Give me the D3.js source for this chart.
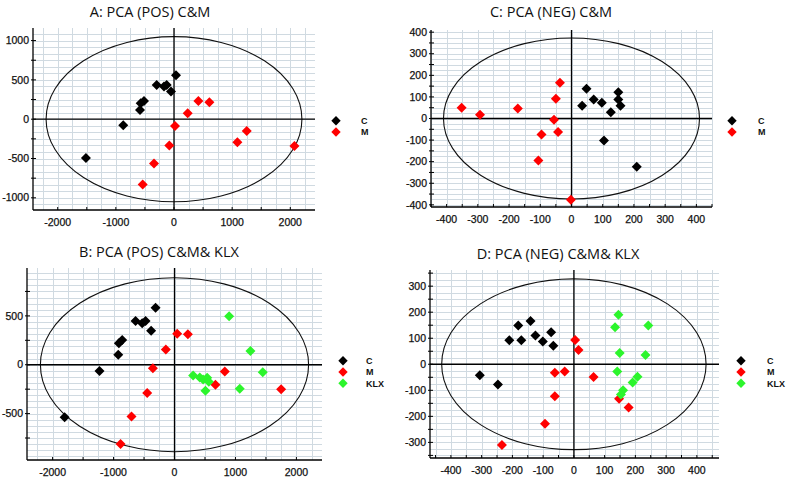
<!DOCTYPE html>
<html><head><meta charset="utf-8">
<script src="https://cdn.jsdelivr.net/npm/d3@7/dist/d3.min.js"></script>
<style>body{margin:0;background:#fff}svg{display:block}</style>
</head><body>
<svg id="chart" width="787" height="478"></svg>
<script>
// ---------- DATA ----------
// A: PCA (POS) C&M
const posCM_C = [[34,560],[-298,436],[-172,415],[-126,436],[-52,351],[-516,233],[-573,203],[-585,118],[-873,-76],[-1515,-492]];
const posCM_M = [[419,233],[608,216],[235,76],[17,-85],[-81,-336],[-344,-565],[-539,-832],[1090,-293],[1251,-149],[2071,-340]];
// C: PCA (NEG) C&M
const negCM_C = [[48,138],[71,88],[97,73],[34,59],[126,29],[150,122],[150,88],[157,59],[104,-102],[209,-223]];
const negCM_M = [[-37,166],[-50,91],[-352,50],[-293,17],[-172,46],[-56,-6],[-96,-74],[-43,-63],[-106,-195],[-2,-376]];
// B: PCA (POS) C&M& KLX
const posCMK_C = [[-311,583],[-639,447],[-475,447],[-530,424],[-383,348],[-858,253],[-913,219],[-923,102],[-1230,-64],[-1803,-538]];
const posCMK_M = [[44,317],[219,311],[-142,157],[-355,-37],[-448,-290],[-705,-529],[-885,-812],[825,-68],[672,-205],[1749,-250]];
const posCMK_K = [[896,495],[1246,140],[1448,-78],[1071,-245],[306,-109],[415,-130],[470,-150],[536,-133],[563,-174],[508,-266]];
// D: PCA (NEG) C&M& KLX
const negCMK_C = [[-141,166],[-181,149],[-74,123],[-125,110],[-210,92],[-171,92],[-101,87],[-67,71],[-306,-42],[-247,-78]];
const negCMK_M = [[4,93],[15,55],[-62,-33],[-30,-28],[64,-49],[-62,-123],[-94,-228],[-234,-310],[147,-132],[178,-166]];
const negCMK_K = [[145,190],[134,142],[242,149],[149,43],[233,36],[141,-28],[207,-48],[191,-70],[160,-100],[153,-116]];
// tick labels
const posXTicks = [-2000,-1000,0,1000,2000];
const posCMYTicks = [-1000,-500,0,500,1000];
const posCMKYTicks = [-500,0,500];
const negXTicks = [-400,-300,-200,-100,0,100,200,300,400];
const negCMYTicks = [-400,-300,-200,-100,0,100,200,300,400];
const negCMKYTicks = [-300,-200,-100,0,100,200,300];
// confidence ellipse radii (Hotelling T2)
const ellipseA = [2200,1050], ellipseB = [2200,890], ellipseC = [410,373], ellipseD = [430,328];

// ---------- STYLE / LAYOUT ----------
const colors = {C:"#000000", M:"#ff0000", KLX:"#2cf52c"};
const panels = [
  {title:"A: PCA (POS) C&M", tx:150, ty:17, x0:33, x1:315, y0:28, y1:210,
   xd:[-2425,2425], yd:[-1155,1160], xt:posXTicks, yt:posCMYTicks, xm:500, ym:250, xg:250, yg:250/3,
   ell:ellipseA, lx:336, ly:120.7, llx:361,
   series:[["C",posCM_C],["M",posCM_M]]},
  {title:"C: PCA (NEG) C&M", tx:551, ty:17, x0:431, x1:712, y0:30, y1:207,
   xd:[-450,450], yd:[-410,410], xt:negXTicks, yt:negCMYTicks, xm:50, ym:50, xg:50, yg:25,
   ell:ellipseC, lx:732, ly:120.7, llx:758,
   series:[["C",negCM_C],["M",negCM_M]]},
  {title:"B: PCA (POS) C&M& KLX", tx:159, ty:257, x0:27, x1:322, y0:268, y1:460,
   xd:[-2420,2420], yd:[-975,990], xt:posXTicks, yt:posCMKYTicks, xm:500, ym:250, xg:250, yg:62.5,
   ell:ellipseB, lx:343, ly:360.7, llx:366,
   series:[["C",posCMK_C],["M",posCMK_M],["KLX",posCMK_K]]},
  {title:"D: PCA (NEG) C&M& KLX", tx:558, ty:259, x0:430, x1:719, y0:270, y1:458,
   xd:[-468,472], yd:[-360,362], xt:negXTicks, yt:negCMKYTicks, xm:50, ym:50, xg:50, yg:25,
   ell:ellipseD, lx:741, ly:360.7, llx:767,
   series:[["C",negCMK_C],["M",negCMK_M],["KLX",negCMK_K]]}
];

const svg = d3.select("#chart");
const diamond = d3.symbol().type(d3.symbolSquare).size(50);
const diamondL = d3.symbol().type(d3.symbolSquare).size(44);

function steps(lo, hi, st){ const a=[]; for(let v=Math.ceil(lo/st-1e-9)*st; v<=hi+1e-9; v+=st) a.push(v); return a; }

panels.forEach(p => {
  const g = svg.append("g");
  const x = d3.scaleLinear().domain(p.xd).range([p.x0, p.x1]);
  const y = d3.scaleLinear().domain(p.yd).range([p.y1, p.y0]);
  // grid
  const grid = g.append("g").attr("stroke","#d0dae1").attr("stroke-width",1);
  steps(p.xd[0], p.xd[1], p.xg).forEach(v => grid.append("line")
    .attr("x1",Math.round(x(v))+0.5).attr("x2",Math.round(x(v))+0.5).attr("y1",p.y0).attr("y2",p.y1));
  steps(p.yd[0], p.yd[1], p.yg).forEach(v => grid.append("line")
    .attr("y1",Math.round(y(v))+0.5).attr("y2",Math.round(y(v))+0.5).attr("x1",p.x0).attr("x2",p.x1));
  // ellipse
  g.append("ellipse").attr("cx",x(0)).attr("cy",y(0))
    .attr("rx",x(p.ell[0])-x(0)).attr("ry",y(0)-y(p.ell[1]))
    .attr("fill","none").attr("stroke","#111").attr("stroke-width",1.1);
  // origin cross
  g.append("line").attr("x1",p.x0).attr("x2",p.x1).attr("y1",y(0)).attr("y2",y(0)).attr("stroke","#000").attr("stroke-width",1.3);
  g.append("line").attr("x1",x(0)).attr("x2",x(0)).attr("y1",p.y0).attr("y2",p.y1).attr("stroke","#000").attr("stroke-width",1.3);
  // axes
  g.append("line").attr("x1",p.x0).attr("x2",p.x0).attr("y1",p.y0).attr("y2",p.y1).attr("stroke","#000").attr("stroke-width",1.3);
  g.append("line").attr("x1",p.x0).attr("x2",p.x1).attr("y1",p.y1).attr("y2",p.y1).attr("stroke","#000").attr("stroke-width",1.3);
  // ticks
  steps(p.xd[0], p.xd[1], p.xm).forEach(v => g.append("line").attr("x1",x(v)).attr("x2",x(v))
    .attr("y1",p.y1).attr("y2",p.y1-3).attr("stroke","#000"));
  steps(p.yd[0], p.yd[1], p.ym).forEach(v => g.append("line").attr("y1",y(v)).attr("y2",y(v))
    .attr("x1",p.x0-2).attr("x2",p.x0+3).attr("stroke","#000"));
  // tick labels
  const lab = (sel) => sel.attr("font-family","Liberation Sans, Arial, sans-serif").attr("font-size",10.5)
    .attr("fill","#111").attr("stroke","#111").attr("stroke-width",0.25);
  p.xt.forEach(v => lab(g.append("text").attr("x",x(v)).attr("y",p.y1+16).attr("text-anchor","middle")).text(v));
  p.yt.forEach(v => lab(g.append("text").attr("x",p.x0-4).attr("y",y(v)).attr("dy","0.35em").attr("text-anchor","end")).text(v));
  // points
  p.series.forEach(([name, data]) => {
    g.append("g").selectAll("path").data(data).join("path")
      .attr("d", diamond)
      .attr("transform", d => `translate(${x(d[0])},${y(d[1])}) rotate(45)`)
      .attr("fill", colors[name]);
  });
  // legend
  p.series.forEach(([name], i) => {
    const ly = p.ly + i*11.3;
    g.append("path").attr("d", diamondL).attr("transform",`translate(${p.lx},${ly}) rotate(45)`).attr("fill",colors[name]);
    g.append("text").attr("x",p.llx).attr("y",ly+3.3).attr("font-family","Liberation Sans, Arial, sans-serif")
      .attr("font-weight","bold").attr("font-size",9).attr("fill","#111").text(name);
  });
  // title
  g.append("text").attr("x",p.tx).attr("y",p.ty).attr("text-anchor","middle")
    .attr("font-family","Open Sans, sans-serif").attr("font-size",14.5).attr("fill","#111").text(p.title);
});
</script>
</body></html>
